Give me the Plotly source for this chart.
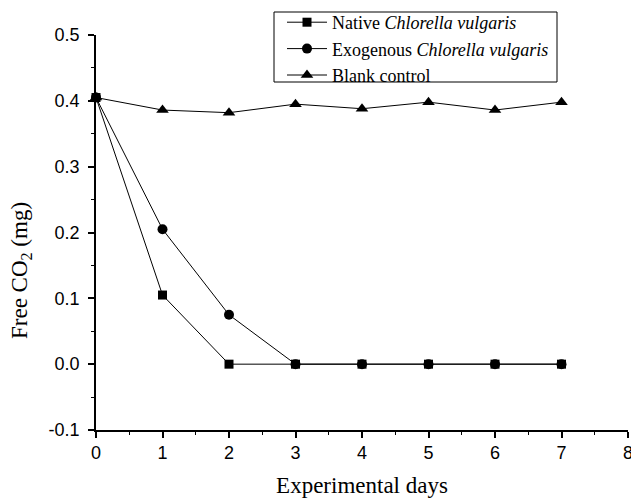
import plotly.graph_objects as go

days = [0, 1, 2, 3, 4, 5, 6, 7]
native = [0.405, 0.105, 0.0, 0.0, 0.0, 0.0, 0.0, 0.0]
exogenous = [0.405, 0.205, 0.075, 0.0, 0.0, 0.0, 0.0, 0.0]
blank = [0.405, 0.386, 0.382, 0.395, 0.388, 0.398, 0.386, 0.398]

x_ticks = [0, 1, 2, 3, 4, 5, 6, 7, 8]
y_ticks = [-0.1, 0.0, 0.1, 0.2, 0.3, 0.4, 0.5]
y_ticklabels = ["-0.1", "0.0", "0.1", "0.2", "0.3", "0.4", "0.5"]

names = ["Native <i>Chlorella vulgaris</i>",
         "Exogenous <i>Chlorella vulgaris</i>",
         "Blank control"]
symbols = ["square", "circle", "triangle-up"]
sizes = [9, 10, 11]

fig = go.Figure()
for vals, name, sym, sz in zip([native, exogenous, blank], names, symbols, sizes):
    fig.add_trace(go.Scatter(
        x=days, y=vals, mode="lines+markers", name=name,
        line=dict(color="black", width=1),
        marker=dict(symbol=sym, size=sz, color="black"),
        cliponaxis=False,
    ))

# legend frame
fig.add_shape(type="rect", xref="paper", yref="paper",
              x0=(274 - 96) / 532, x1=(557 - 96) / 532,
              y0=(430 - 82) / 395, y1=(430 - 12) / 395,
              line=dict(color="black", width=1), fillcolor="white", layer="below")

# y-axis title
fig.add_annotation(text="Free CO<sub>2</sub> (mg)", textangle=-90,
                   xref="paper", yref="paper", x=(21 - 96) / 532, y=(430 - 271) / 395,
                   xanchor="center", yanchor="middle", showarrow=False,
                   font=dict(family="Liberation Serif", size=23, color="black"))

fig.update_layout(
    width=631, height=498,
    margin=dict(l=96, r=3, t=35, b=68, autoexpand=False),
    plot_bgcolor="white", paper_bgcolor="white",
    showlegend=True,
    legend=dict(
        xref="container", yref="container",
        x=282 / 631, y=1 - 4 / 498, xanchor="left", yanchor="top",
        borderwidth=0, bgcolor="rgba(0,0,0,0)",
        font=dict(family="Liberation Serif", size=18, color="black"),
        tracegroupgap=0, itemwidth=40,
    ),
)
fig.update_xaxes(
    range=[0, 8], tickvals=x_ticks, ticklabeloverflow="allow",
    showline=True, linecolor="black", linewidth=1.5,
    ticks="outside", ticklen=6, tickwidth=1.5, tickcolor="black",
    minor=dict(dtick=0.5, ticks="outside", ticklen=3, tickcolor="black", tickwidth=1),
    showgrid=False, zeroline=False,
    tickfont=dict(family="Liberation Sans", size=18, color="black"),
    title=dict(text="Experimental days", standoff=21,
               font=dict(family="Liberation Serif", size=23, color="black")),
)
fig.update_yaxes(
    range=[-0.1, 0.5], tickvals=y_ticks, ticktext=y_ticklabels,
    showline=True, linecolor="black", linewidth=1.5,
    ticks="outside", ticklen=6, tickwidth=1.5, tickcolor="black",
    ticklabelstandoff=5,
    minor=dict(dtick=0.05, ticks="outside", ticklen=3, tickcolor="black", tickwidth=1),
    showgrid=False, zeroline=False,
    tickfont=dict(family="Liberation Sans", size=18, color="black"),
)

fig.write_html("out.html", config={"displayModeBar": False},
               post_script="document.body.style.margin='0';")
